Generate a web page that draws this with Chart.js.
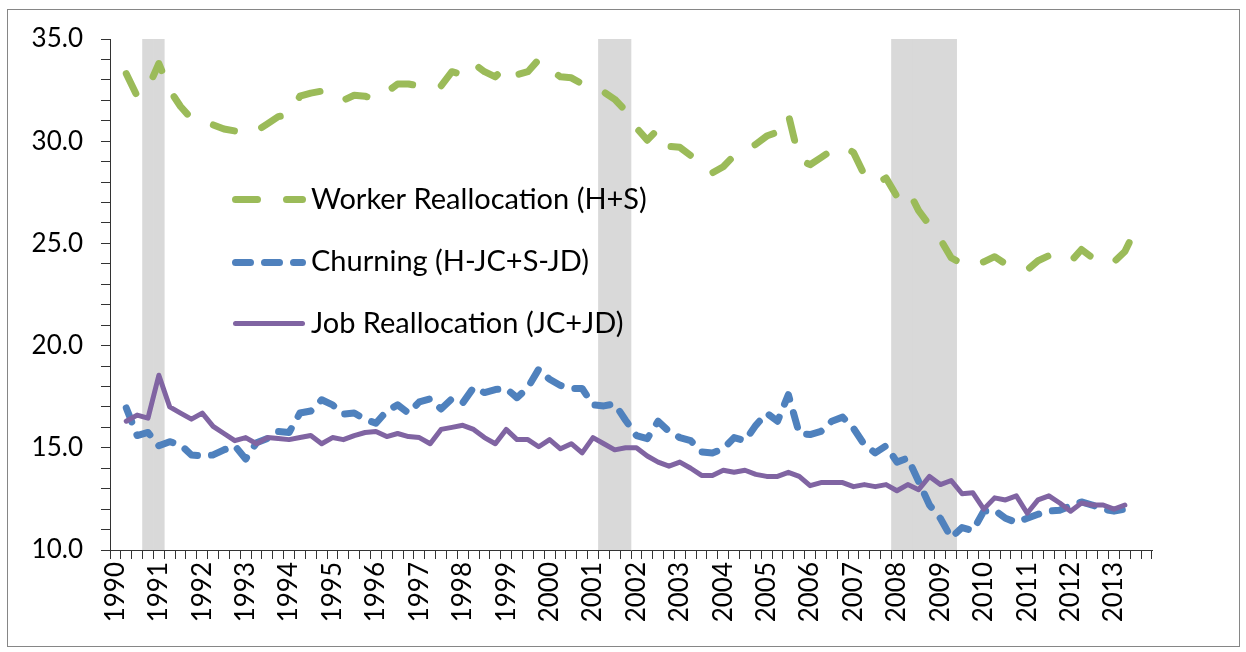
<!DOCTYPE html>
<html><head><meta charset="utf-8">
<script src="https://cdn.jsdelivr.net/npm/chart.js@4.4.1/dist/chart.umd.min.js"></script>
<style>html,body{margin:0;padding:0;background:#fff;}#wrap{width:1246px;height:652px;position:relative;}</style>
</head><body><div id="wrap"><canvas id="c" width="1246" height="652"></canvas></div>
<script>
const years = [1990,1991,1992,1993,1994,1995,1996,1997,1998,1999,2000,2001,2002,2003,2004,2005,2006,2007,2008,2009,2010,2011,2012,2013];
const quarters = ['Q1','Q2','Q3','Q4'];
const yTickLabels = ['10.0','15.0','20.0','25.0','30.0','35.0'];
const recessionQuarters = ['1990Q4','1991Q1','2001Q2','2001Q3','2001Q4','2008Q1','2008Q2','2008Q3','2008Q4','2009Q1','2009Q2'];

const workerRealloc = [null,33.3,32.2,32.6,33.8,32.5,31.7,31.1,31.0,30.8,30.6,30.5,30.35,30.5,30.85,31.2,
 31.3,32.2,32.35,32.45,32.4,32.0,32.25,32.2,32.05,32.4,32.8,32.8,32.7,32.75,32.7,33.4,
 33.25,33.8,33.4,33.15,33.7,33.25,33.4,34.0,33.5,33.15,33.1,32.8,32.5,32.4,32.05,31.5,
 30.65,30.05,30.6,29.75,29.7,29.3,28.8,28.45,28.75,29.3,29.55,29.85,30.25,30.45,31.3,29.1,
 28.85,29.2,29.55,29.75,29.45,28.35,27.9,28.2,27.3,27.65,26.6,25.9,25.2,24.3,24.0,23.9,
 24.1,24.35,24.0,23.85,23.7,24.15,24.4,24.2,24.1,24.7,24.3,24.0,24.1,24.6,25.7,25.35];

const churning = [null,16.95,15.6,15.75,15.1,15.3,15.15,14.65,14.6,14.65,14.9,15.1,14.45,15.25,15.45,15.8,
 15.75,16.7,16.8,17.35,17.1,16.65,16.7,16.4,16.2,16.8,17.1,16.7,17.25,17.4,16.9,17.4,
 17.2,17.95,17.7,17.85,17.9,17.45,17.95,18.85,18.35,18.05,17.9,17.9,17.1,17.05,17.15,16.35,
 15.6,15.45,16.3,15.8,15.5,15.35,14.8,14.75,14.95,15.5,15.35,16.1,16.7,16.3,17.6,15.7,
 15.65,15.8,16.3,16.5,15.95,15.15,14.75,15.1,14.3,14.5,13.35,12.2,11.55,10.6,11.1,10.95,
 11.9,11.95,11.55,11.35,11.55,11.75,11.9,11.95,12.15,12.35,12.2,12.0,11.9,12.0];

const jobRealloc = [null,16.3,16.6,16.45,18.55,17.0,16.7,16.4,16.7,16.05,15.7,15.35,15.5,15.2,15.5,15.45,
 15.4,15.5,15.6,15.2,15.5,15.4,15.6,15.75,15.8,15.55,15.7,15.55,15.5,15.2,15.9,16.0,
 16.1,15.9,15.5,15.2,15.9,15.4,15.4,15.05,15.4,14.95,15.2,14.75,15.5,15.2,14.9,15.0,
 15.0,14.6,14.3,14.1,14.3,14.0,13.65,13.65,13.9,13.8,13.9,13.7,13.6,13.6,13.8,13.6,
 13.15,13.3,13.3,13.3,13.1,13.2,13.1,13.2,12.9,13.2,12.95,13.6,13.2,13.4,12.75,12.8,
 12.0,12.55,12.45,12.65,11.8,12.45,12.65,12.3,11.9,12.3,12.2,12.2,12.0,12.2];

const categories = [];
years.forEach(y => quarters.forEach(q => categories.push(y + q)));
const yMin = parseFloat(yTickLabels[0]);
const yMax = parseFloat(yTickLabels[yTickLabels.length - 1]);
const recessionBars = categories.map(c => recessionQuarters.includes(c) ? [yMin, yMax] : null);

const FONT = 'Lato, "Liberation Sans", sans-serif';

const lineDefs = [
  {label:'Worker Reallocation (H+S)', data:workerRealloc, color:'#9bbb59', width:7, dash:[22,29], order:3},
  {label:'Churning (H-JC+S-JD)', data:churning, color:'#4f81bd', width:7, dash:[15,14], order:2},
  {label:'Job Reallocation (JC+JD)', data:jobRealloc, color:'#8064a2', width:5, dash:[], order:1}
];

const datasets = lineDefs.map(d => ({
  type:'line', label:d.label, data:d.data, borderColor:d.color, backgroundColor:d.color,
  borderWidth:d.width, borderDash:d.dash, borderCapStyle:'round', borderJoinStyle:'round',
  pointRadius:0, tension:0, fill:false, spanGaps:false, order:d.order
}));
datasets.push({type:'bar', label:'Recession', data:recessionBars, backgroundColor:'#d9d9d9',
  borderWidth:0, barPercentage:1, categoryPercentage:1, order:10});

const frame = {
  id:'frame',
  beforeDraw(chart){
    const c = chart.ctx;
    c.save(); c.fillStyle='#fff'; c.fillRect(0,0,chart.width,chart.height); c.restore();
  },
  afterDraw(chart){
    const c = chart.ctx;
    c.save();
    c.strokeStyle='#868686'; c.lineWidth=1;
    c.strokeRect(7.5,9.5,1232,637);
    // legend
    const rows = [209, 271, 333];
    const mids = [199.5, 262.5, 323.5];
    lineDefs.forEach((d,i)=>{
      c.beginPath();
      c.strokeStyle=d.color; c.lineWidth=d.width; c.lineCap='round';
      c.setLineDash(d.dash);
      c.moveTo(235.5, mids[i]); c.lineTo(302.5, mids[i]);
      c.stroke();
      c.setLineDash([]);
      c.fillStyle='#000'; c.font='29px ' + FONT; c.textBaseline='alphabetic'; c.textAlign='left';
      c.fillText(d.label, 311, rows[i]);
    });
    c.restore();
  }
};

new Chart(document.getElementById('c'), {
  data:{labels:categories, datasets},
  options:{
    responsive:false, animation:false, devicePixelRatio:1,
    layout:{padding:{left:0,right:94,top:39,bottom:0}},
    plugins:{legend:{display:false}, tooltip:{enabled:false}},
    scales:{
      x:{type:'category', offset:true,
        grid:{offset:true, drawOnChartArea:false, drawTicks:true, tickLength:9, color:'#333'},
        border:{color:'#333', width:1},
        ticks:{autoSkip:false, minRotation:90, maxRotation:90, padding:3, color:'#000',
          font:{family:FONT, size:26},
          callback:(v,i)=> categories[i].endsWith(quarters[0]) ? categories[i].slice(0,4) : ''},
        afterFit:(s)=>{s.height=102;}
      },
      y:{type:'linear', min:yMin, max:yMax,
        grid:{drawOnChartArea:false, drawTicks:true, tickLength:9, color:'#333'},
        border:{color:'#333', width:1},
        ticks:{stepSize:1, autoSkip:false, maxTicksLimit:100, padding:18, color:'#000',
          font:{family:FONT, size:26},
          callback:(v)=>{ const s=Number(v).toFixed(1); return yTickLabels.includes(s) ? s : ''; }},
        afterFit:(s)=>{s.width=110;}
      }
    }
  },
  plugins:[frame]
});
</script></body></html>
